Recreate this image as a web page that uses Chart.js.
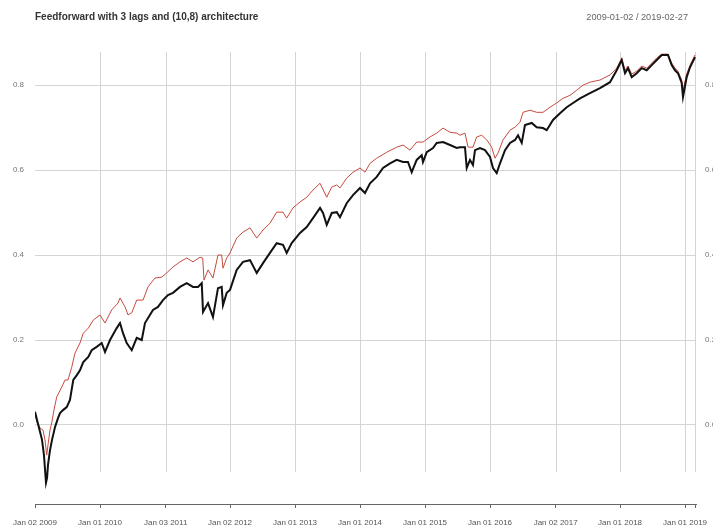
<!DOCTYPE html>
<html>
<head>
<meta charset="utf-8">
<script src="https://cdn.jsdelivr.net/npm/chart.js@4"></script>
<style>
  html, body { margin: 0; padding: 0; background: #fff; }
  #wrap { width: 713px; height: 531px; }
</style>
</head>
<body>
<div id="wrap"><canvas id="ff-chart"></canvas></div>
<script>
// chart text
const chartTitle = 'Feedforward with 3 lags and (10,8) architecture';
const dateRange = '2009-01-02 / 2019-02-27';

// x axis ticks (decimal years) and their labels
const tickYears = [2009.0, 2010.0, 2011.01, 2012.0, 2013.0, 2014.0, 2015.0, 2016.0, 2017.01, 2018.0, 2019.0, 2019.16];
const tickLabels = ['Jan 02 2009', 'Jan 01 2010', 'Jan 03 2011', 'Jan 02 2012', 'Jan 01 2013', 'Jan 01 2014',
  'Jan 01 2015', 'Jan 01 2016', 'Jan 02 2017', 'Jan 01 2018', 'Jan 01 2019', ''];
const yTicks = [0, 0.2, 0.4, 0.6, 0.8];

// black series (actual)
const blackYears = [2009.000, 2009.031, 2009.077, 2009.108, 2009.138, 2009.169, 2009.185, 2009.200, 2009.231, 2009.262,
  2009.308, 2009.354, 2009.385, 2009.431, 2009.488, 2009.538, 2009.589, 2009.646, 2009.692, 2009.743,
  2009.820, 2009.872, 2009.949, 2010.026, 2010.077, 2010.154, 2010.257, 2010.308, 2010.354, 2010.411,
  2010.488, 2010.565, 2010.642, 2010.692, 2010.815, 2010.892, 2010.969, 2011.046, 2011.123, 2011.231,
  2011.334, 2011.431, 2011.508, 2011.565, 2011.585, 2011.662, 2011.738, 2011.815, 2011.872, 2011.892,
  2011.949, 2012.000, 2012.103, 2012.200, 2012.308, 2012.411, 2012.508, 2012.615, 2012.718, 2012.815,
  2012.872, 2012.949, 2013.077, 2013.180, 2013.277, 2013.385, 2013.431, 2013.488, 2013.565, 2013.642,
  2013.692, 2013.795, 2013.892, 2014.000, 2014.077, 2014.154, 2014.257, 2014.354, 2014.462, 2014.565,
  2014.662, 2014.738, 2014.795, 2014.872, 2014.949, 2014.969, 2015.026, 2015.123, 2015.180, 2015.277,
  2015.385, 2015.488, 2015.538, 2015.615, 2015.642, 2015.692, 2015.738, 2015.769, 2015.846, 2015.923,
  2016.000, 2016.046, 2016.103, 2016.154, 2016.231, 2016.308, 2016.385, 2016.431, 2016.488, 2016.538,
  2016.642, 2016.718, 2016.815, 2016.872, 2016.969, 2017.077, 2017.180, 2017.277, 2017.385, 2017.538,
  2017.692, 2017.846, 2017.949, 2018.026, 2018.077, 2018.123, 2018.180, 2018.257, 2018.334, 2018.411,
  2018.488, 2018.565, 2018.642, 2018.738, 2018.795, 2018.846, 2018.892, 2018.949, 2018.969, 2019.026,
  2019.077, 2019.154];
const blackValues = [0.031, 0.012, -0.016, -0.035, -0.071, -0.136, -0.125, -0.094, -0.059, -0.035,
  -0.005, 0.016, 0.028, 0.035, 0.042, 0.059, 0.106, 0.118, 0.129, 0.148,
  0.160, 0.176, 0.184, 0.193, 0.172, 0.200, 0.228, 0.240, 0.216, 0.193,
  0.176, 0.205, 0.200, 0.240, 0.271, 0.278, 0.294, 0.306, 0.311, 0.325,
  0.334, 0.325, 0.325, 0.334, 0.266, 0.287, 0.254, 0.322, 0.325, 0.282,
  0.311, 0.318, 0.365, 0.384, 0.388, 0.358, 0.381, 0.405, 0.428, 0.424,
  0.405, 0.428, 0.452, 0.466, 0.487, 0.511, 0.499, 0.471, 0.499, 0.501,
  0.489, 0.522, 0.541, 0.558, 0.546, 0.569, 0.584, 0.605, 0.616, 0.624,
  0.619, 0.619, 0.595, 0.624, 0.635, 0.619, 0.642, 0.652, 0.664, 0.666,
  0.659, 0.652, 0.654, 0.654, 0.605, 0.624, 0.612, 0.647, 0.652, 0.647,
  0.631, 0.605, 0.593, 0.616, 0.647, 0.664, 0.671, 0.682, 0.664, 0.706,
  0.711, 0.701, 0.699, 0.694, 0.718, 0.734, 0.748, 0.758, 0.769, 0.781,
  0.793, 0.807, 0.835, 0.859, 0.828, 0.840, 0.819, 0.828, 0.840, 0.835,
  0.847, 0.859, 0.871, 0.871, 0.847, 0.835, 0.828, 0.805, 0.772, 0.819,
  0.842, 0.866];

// red series (forecast)
const redYears = [2009.000, 2009.031, 2009.077, 2009.123, 2009.154, 2009.180, 2009.200, 2009.231, 2009.257, 2009.292,
  2009.334, 2009.411, 2009.462, 2009.508, 2009.565, 2009.615, 2009.692, 2009.743, 2009.820, 2009.897,
  2010.000, 2010.077, 2010.180, 2010.277, 2010.308, 2010.385, 2010.431, 2010.488, 2010.565, 2010.662,
  2010.738, 2010.846, 2010.949, 2011.026, 2011.123, 2011.231, 2011.334, 2011.431, 2011.538, 2011.580,
  2011.600, 2011.662, 2011.738, 2011.815, 2011.872, 2011.892, 2011.949, 2012.000, 2012.103, 2012.200,
  2012.308, 2012.411, 2012.508, 2012.615, 2012.718, 2012.815, 2012.872, 2012.969, 2013.077, 2013.180,
  2013.277, 2013.385, 2013.488, 2013.565, 2013.642, 2013.692, 2013.795, 2013.892, 2014.000, 2014.077,
  2014.154, 2014.257, 2014.411, 2014.565, 2014.662, 2014.769, 2014.872, 2014.969, 2015.077, 2015.180,
  2015.277, 2015.385, 2015.488, 2015.538, 2015.615, 2015.662, 2015.738, 2015.795, 2015.872, 2015.949,
  2016.026, 2016.077, 2016.123, 2016.200, 2016.308, 2016.385, 2016.462, 2016.508, 2016.615, 2016.718,
  2016.815, 2016.923, 2017.026, 2017.123, 2017.231, 2017.334, 2017.431, 2017.538, 2017.692, 2017.846,
  2017.949, 2018.026, 2018.077, 2018.123, 2018.180, 2018.257, 2018.334, 2018.411, 2018.488, 2018.565,
  2018.642, 2018.738, 2018.795, 2018.846, 2018.892, 2018.949, 2018.969, 2019.026, 2019.077, 2019.154];
const redValues = [0.024, 0.007, -0.007, -0.012, -0.035, -0.071, -0.047, -0.012, 0.005, 0.035,
  0.066, 0.089, 0.106, 0.106, 0.136, 0.169, 0.193, 0.216, 0.228, 0.247,
  0.259, 0.240, 0.271, 0.287, 0.299, 0.278, 0.259, 0.264, 0.294, 0.294,
  0.325, 0.346, 0.348, 0.358, 0.372, 0.384, 0.393, 0.384, 0.395, 0.393,
  0.341, 0.365, 0.346, 0.400, 0.400, 0.369, 0.393, 0.405, 0.440, 0.454,
  0.464, 0.440, 0.459, 0.475, 0.501, 0.501, 0.487, 0.511, 0.525, 0.536,
  0.553, 0.569, 0.536, 0.560, 0.565, 0.558, 0.581, 0.595, 0.605, 0.595,
  0.616, 0.628, 0.642, 0.654, 0.659, 0.647, 0.666, 0.666, 0.678, 0.687,
  0.699, 0.689, 0.687, 0.682, 0.687, 0.654, 0.654, 0.678, 0.682, 0.671,
  0.654, 0.628, 0.640, 0.671, 0.694, 0.701, 0.713, 0.736, 0.741, 0.736,
  0.736, 0.748, 0.758, 0.769, 0.776, 0.788, 0.800, 0.807, 0.812, 0.824,
  0.840, 0.864, 0.835, 0.845, 0.826, 0.833, 0.845, 0.840, 0.852, 0.864,
  0.873, 0.873, 0.852, 0.840, 0.833, 0.812, 0.788, 0.826, 0.847, 0.871];

const xMin = 2009.0;
const xMax = 2019.169;
const yMin = -0.186;
const yMax = 0.878;
const gridBottom = -0.111;

function toPoints(xs, ys) {
  return xs.map(function (x, i) { return { x: x, y: ys[i] }; });
}

// vertical grid lines (stop above the x axis like the original)
const vGrid = {
  id: 'vGrid',
  beforeDatasetsDraw: function (chart) {
    const ctx = chart.ctx;
    const xs = chart.scales.x;
    const ys = chart.scales.y;
    const top = chart.chartArea.top;
    const bottom = ys.getPixelForValue(gridBottom);
    ctx.save();
    ctx.strokeStyle = '#d4d4d4';
    ctx.lineWidth = 1;
    for (let i = 1; i < tickYears.length; i++) {
      const px = Math.round(xs.getPixelForValue(tickYears[i])) + 0.5;
      ctx.beginPath();
      ctx.moveTo(px, top);
      ctx.lineTo(px, bottom);
      ctx.stroke();
    }
    ctx.restore();
  }
};

// header text, plus the right-hand y labels that run off the canvas edge
const header = {
  id: 'header',
  afterDraw: function (chart) {
    const ctx = chart.ctx;
    const ys = chart.scales.y;
    ctx.save();
    ctx.textBaseline = 'middle';
    ctx.fillStyle = '#333';
    ctx.font = 'bold 10px "Liberation Sans", Arial, sans-serif';
    ctx.textAlign = 'left';
    ctx.fillText(chartTitle, 35, 17);
    ctx.fillStyle = '#666';
    ctx.font = '9.2px "Liberation Sans", Arial, sans-serif';
    ctx.textAlign = 'right';
    ctx.fillText(dateRange, 688, 17);

    ctx.fillStyle = '#777';
    ctx.font = '8px "Liberation Sans", Arial, sans-serif';
    ctx.textAlign = 'left';
    yTicks.forEach(function (v) {
      ctx.fillText(v.toFixed(1), chart.chartArea.right + 9, ys.getPixelForValue(v));
    });
    ctx.restore();
  }
};

new Chart(document.getElementById('ff-chart'), {
  type: 'line',
  data: {
    datasets: [
      {
        label: 'actual',
        data: toPoints(blackYears, blackValues),
        borderColor: '#111',
        borderWidth: 2,
        pointRadius: 0,
        tension: 0,
      },
      {
        label: 'forecast',
        data: toPoints(redYears, redValues),
        borderColor: '#c64a3e',
        borderWidth: 1,
        pointRadius: 0,
        tension: 0,
      },
    ],
  },
  options: {
    responsive: true,
    maintainAspectRatio: false,
    animation: false,
    layout: { padding: { top: 52, left: 0, right: 17, bottom: 0 } },
    plugins: {
      legend: { display: false },
      title: { display: false },
      tooltip: { enabled: false },
    },
    scales: {
      x: {
        type: 'linear',
        min: xMin,
        max: xMax,
        afterBuildTicks: function (axis) {
          axis.ticks = tickYears.map(function (v) { return { value: v }; });
        },
        afterFit: function (axis) { axis.height = 27; },
        ticks: {
          autoSkip: false,
          maxRotation: 0,
          padding: 10,
          color: '#555',
          font: { family: '"Liberation Sans", Arial, sans-serif', size: 8 },
          callback: function (value, index) { return tickLabels[index]; },
        },
        grid: { drawOnChartArea: false, drawTicks: true, tickLength: 4, color: '#666' },
        border: { display: true, color: '#666', width: 1 },
      },
      y: {
        position: 'left',
        min: yMin,
        max: yMax,
        afterBuildTicks: function (axis) {
          axis.ticks = yTicks.map(function (v) { return { value: v }; });
        },
        afterFit: function (axis) { axis.width = 35; },
        ticks: {
          padding: 11,
          color: '#777',
          font: { family: '"Liberation Sans", Arial, sans-serif', size: 8 },
          callback: function (value) { return value.toFixed(1); },
        },
        grid: { drawTicks: false, color: '#d4d4d4', lineWidth: 1 },
        border: { display: false },
      },
    },
  },
  plugins: [vGrid, header],
});
</script>
</body>
</html>
